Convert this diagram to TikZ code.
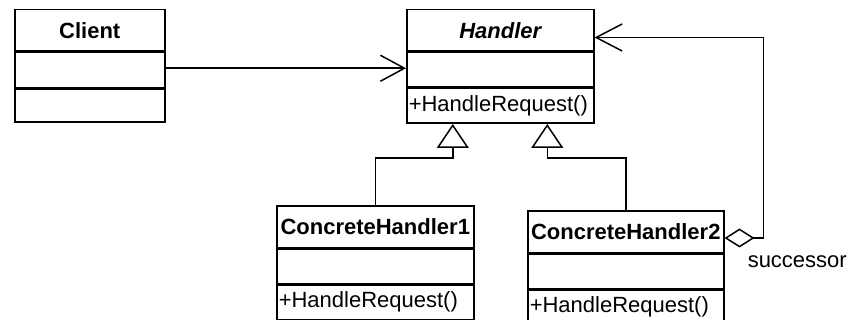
\documentclass[tikz,border=0pt]{standalone}
\usepackage{fontspec}
\setmainfont{Liberation Sans}
\usetikzlibrary{positioning, arrows.meta}
\newcommand{\umlsize}{\fontsize{11}{13}\selectfont}
\tikzset{
    classname/.style={
        rectangle,
        draw,
        minimum height=20.75pt,
        inner sep=0,
        font=\umlsize\bfseries
    },
    classpart/.style={
        rectangle,
        draw,
        minimum height=17.5pt,
        inner sep=0
    },
    opspart/.style={
        rectangle,
        draw,
        minimum height=17pt,
        inner xsep=1pt,
        inner ysep=0,
        align=left,
        font=\umlsize
    },
    assoc/.style={-{Straight Barb[length=12pt,width=13pt]}},
    inherit/.style={-{Triangle[open,length=12pt,width=16pt]}},
    aggr/.style={{Diamond[open,length=15pt,width=9.5pt]}-{Straight Barb[length=13pt,width=13.5pt]}}
}
\begin{document}
\begin{tikzpicture}[
                line width=0.75pt,
                node distance=0pt
            ]
            \useasboundingbox (0,0) rectangle (424.5pt,-160pt);
            % Client
            \node[classname, minimum width=75pt, anchor=north west] (client) at (7pt,-4.5pt) {Client};
            \node[classpart, minimum width=75pt, below=of client] (client-attr) {};
            \node[classpart, minimum width=75pt, minimum height=16.5pt, below=of client-attr] (client-ops) {};
            % Handler
            \node[classname, minimum width=93.5pt, anchor=north west, font=\umlsize\bfseries\itshape] (handler) at (203pt,-4.5pt) {Handler};
            \node[classpart, minimum width=93.5pt, minimum height=17pt, below=of handler] (handler-attr) {};
            \node[opspart, text width=91.5pt, minimum height=17.5pt, below=of handler-attr] (handler-ops) {+HandleRequest()};
            % ConcreteHandler1
            \node[classname, minimum width=98.5pt, anchor=north west] (ch1) at (138pt,-102.5pt) {ConcreteHandler1};
            \node[classpart, minimum width=98.5pt, below=of ch1] (ch1-attr) {};
            \node[opspart, text width=96.5pt, below=of ch1-attr] (ch1-ops) {+HandleRequest()};
            % ConcreteHandler2
            \node[classname, minimum width=98pt, anchor=north west] (ch2) at (263.5pt,-105pt) {ConcreteHandler2};
            \node[classpart, minimum width=98pt, below=of ch2] (ch2-attr) {};
            \node[opspart, text width=96pt, below=of ch2-attr] (ch2-ops) {+HandleRequest()};
            \node[anchor=west, inner sep=0, font=\umlsize] (succ) at (373.5pt,-131pt) {successor};
            % connectors
            \draw[assoc] ([yshift=1pt]client-attr.east) -- ([yshift=1pt]client-attr.east -| handler-attr.west);
            \draw[inherit] (ch1.north) -- ++(0,23.5pt) -| ([xshift=-23.75pt]handler-ops.south);
            \draw[inherit] (ch2.north) -- ++(0,26pt) -| ([xshift=23.5pt]handler-ops.south);
            \draw[aggr] ([yshift=-3.25pt]ch2.east) -- ++(19.5pt,0) |- ([yshift=-3.5pt]handler.east);
            \end{tikzpicture}
\end{document}
